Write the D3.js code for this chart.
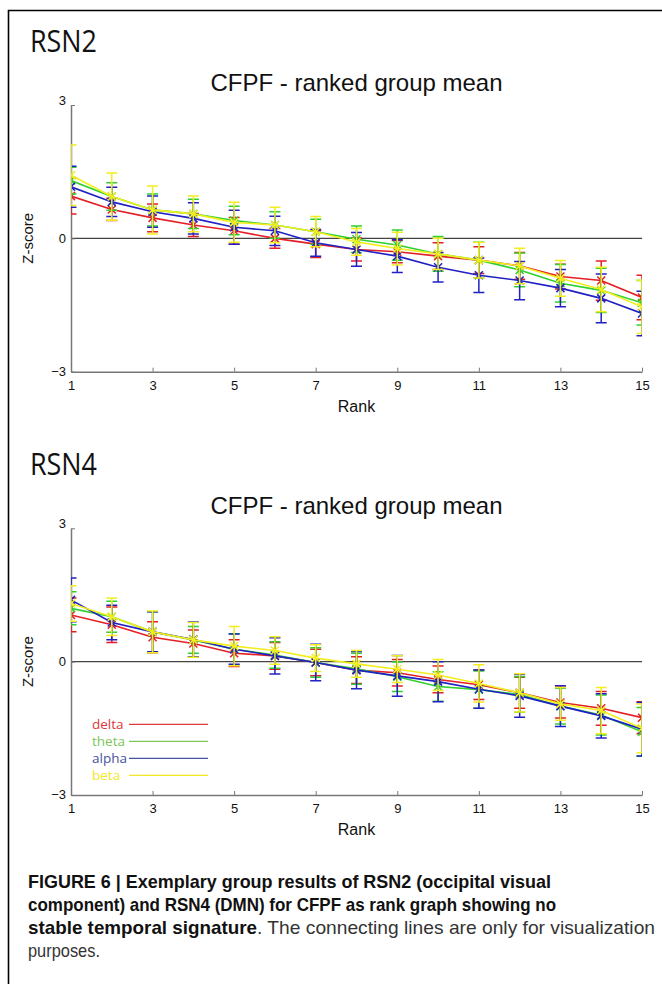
<!DOCTYPE html>
<html>
<head>
<meta charset="utf-8">
<script src="https://cdn.jsdelivr.net/npm/d3@7"></script>
<style>
    body { margin: 0; background: #fff; }
    svg { display: block; }
</style>
</head>
<body>
<svg id="figure" width="662" height="984"></svg>
<script>
// ranks on the x axis
const ranks = [1, 2, 3, 4, 5, 6, 7, 8, 9, 10, 11, 12, 13, 14, 15];
const xTicks = [1, 3, 5, 7, 9, 11, 13, 15];
const yTicks = [-3, 0, 3];
const bands = ["delta", "theta", "alpha", "beta"];
const bandColors = ["#e41f26", "#2fd02f", "#2020c4", "#f2ee1e"];
const legendColors = ["#e0383c", "#7cc65a", "#4552a0", "#f1e826"];

// RSN2 - group mean z-score per rank
const rsn2Delta = [0.95, 0.65, 0.46, 0.30, 0.17, 0.00, -0.13, -0.25, -0.30, -0.40, -0.49, -0.62, -0.86, -0.95, -1.33];
const rsn2Theta = [1.30, 0.94, 0.64, 0.55, 0.40, 0.30, 0.15, -0.02, -0.15, -0.35, -0.49, -0.71, -1.01, -1.17, -1.45];
const rsn2Alpha = [1.16, 0.82, 0.60, 0.45, 0.25, 0.17, -0.10, -0.25, -0.40, -0.65, -0.83, -0.95, -1.12, -1.35, -1.69];
const rsn2Beta = [1.42, 0.94, 0.64, 0.55, 0.36, 0.30, 0.15, -0.08, -0.23, -0.35, -0.49, -0.62, -0.90, -1.15, -1.54];
// RSN2 - error bar half widths
const rsn2DeltaErr = [0.40, 0.25, 0.31, 0.26, 0.30, 0.22, 0.30, 0.26, 0.25, 0.30, 0.30, 0.30, 0.28, 0.44, 0.50];
const rsn2ThetaErr = [0.30, 0.31, 0.36, 0.33, 0.32, 0.30, 0.28, 0.30, 0.34, 0.39, 0.40, 0.38, 0.42, 0.50, 0.50];
const rsn2AlphaErr = [0.46, 0.33, 0.35, 0.35, 0.38, 0.33, 0.30, 0.38, 0.37, 0.33, 0.39, 0.43, 0.42, 0.55, 0.50];
const rsn2BetaErr = [0.68, 0.53, 0.54, 0.40, 0.45, 0.40, 0.34, 0.30, 0.37, 0.35, 0.40, 0.40, 0.40, 0.50, 0.60];

// RSN4 - group mean z-score per rank
const rsn4Delta = [1.05, 0.83, 0.55, 0.41, 0.19, 0.13, -0.02, -0.19, -0.25, -0.40, -0.52, -0.70, -0.92, -1.05, -1.26];
const rsn4Theta = [1.20, 1.01, 0.67, 0.49, 0.28, 0.15, -0.02, -0.16, -0.34, -0.56, -0.63, -0.74, -1.00, -1.20, -1.58];
const rsn4Alpha = [1.39, 0.88, 0.67, 0.50, 0.28, 0.13, -0.02, -0.19, -0.32, -0.45, -0.62, -0.77, -1.00, -1.22, -1.52];
const rsn4Beta = [1.31, 1.01, 0.67, 0.49, 0.35, 0.25, 0.08, -0.05, -0.17, -0.30, -0.49, -0.70, -0.95, -1.10, -1.50];
// RSN4 - error bar half widths
const rsn4DeltaErr = [0.38, 0.40, 0.35, 0.30, 0.30, 0.30, 0.30, 0.30, 0.30, 0.30, 0.33, 0.35, 0.35, 0.38, 0.36];
const rsn4ThetaErr = [0.37, 0.35, 0.45, 0.30, 0.35, 0.30, 0.33, 0.35, 0.33, 0.33, 0.42, 0.40, 0.40, 0.45, 0.55];
const rsn4AlphaErr = [0.49, 0.39, 0.45, 0.39, 0.34, 0.41, 0.41, 0.42, 0.46, 0.45, 0.43, 0.48, 0.46, 0.50, 0.60];
const rsn4BetaErr = [0.40, 0.42, 0.47, 0.39, 0.44, 0.31, 0.30, 0.30, 0.30, 0.35, 0.42, 0.43, 0.37, 0.52, 0.55];

const svg = d3.select("#figure");
const helv = "'Liberation Sans', Arial, Helvetica, sans-serif";

/**
 * Draws one panel of the figure
 * @param top y offset of the panel
 * @param name panel heading
 * @param means array of mean series (one per band)
 * @param errs array of error series (one per band)
 * @param withLegend draw band legend inside the axes
 */
function drawPanel(top, name, means, errs, withLegend) {
    let x = d3.scaleLinear().domain([1, 15]).range([71, 642]);
    let y = d3.scaleLinear().domain([-3, 3]).range([top + 371.7, top + 105]);
    let g = svg.append("g");
    let clipId = "clip" + name;

    g.append("clipPath").attr("id", clipId)
        .append("rect")
        .attr("x", x(1)).attr("y", y(3) - 20)
        .attr("width", x(15) - x(1)).attr("height", y(-3) - y(3) + 40);

    g.append("text")
        .attr("x", 30).attr("y", top + 52)
        .attr("font-family", "'Open Sans', sans-serif")
        .attr("font-size", 31)
        .attr("textLength", 67).attr("lengthAdjust", "spacingAndGlyphs")
        .attr("fill", "#111")
        .text(name);

    g.append("text")
        .attr("x", (x(1) + x(15)) / 2).attr("y", top + 91)
        .attr("text-anchor", "middle")
        .attr("font-family", helv)
        .attr("font-size", 24)
        .attr("fill", "#111")
        .text("CFPF - ranked group mean");

    // zero line
    g.append("line")
        .attr("x1", x(1)).attr("x2", x(15))
        .attr("y1", y(0)).attr("y2", y(0))
        .attr("stroke", "#444").attr("stroke-width", 1.3);

    // axes
    let xAxis = d3.axisBottom(x).tickValues(xTicks).tickSizeInner(-4).tickSizeOuter(0).tickPadding(9);
    let yAxis = d3.axisLeft(y).tickValues(yTicks).tickFormat(d3.format("d"))
        .tickSizeInner(-4).tickSizeOuter(0).tickPadding(9);
    let ax = g.append("g").attr("transform", "translate(0," + y(-3) + ")").call(xAxis);
    let ay = g.append("g").attr("transform", "translate(" + x(1) + ",0)").call(yAxis);
    [ax, ay].forEach(function (a) {
        a.select(".domain").attr("stroke", "#777").attr("stroke-width", 1.5);
        a.selectAll(".tick line").attr("stroke", "#777").attr("stroke-width", 1);
        a.selectAll("text").attr("font-family", helv).attr("font-size", 13).attr("fill", "#111");
    });
    ay.selectAll(".tick text").attr("x", -5).attr("dy", "0.3em");
    ay.selectAll(".tick").filter(function (d) { return d === 3; }).select("text").attr("dy", "-0.05em");

    g.append("text")
        .attr("x", (x(1) + x(15)) / 2).attr("y", top + 412)
        .attr("text-anchor", "middle")
        .attr("font-family", helv).attr("font-size", 16).attr("fill", "#111")
        .text("Rank");

    g.append("text")
        .attr("transform", "translate(33," + y(0) + ") rotate(-90)")
        .attr("text-anchor", "middle")
        .attr("font-family", helv).attr("font-size", 15).attr("fill", "#111")
        .text("Z-score");

    // series: error bars, connecting line and x markers
    let plot = g.append("g").attr("clip-path", "url(#" + clipId + ")");
    let line = d3.line().x(function (d, i) { return x(ranks[i]); }).y(function (d) { return y(d); });
    let cap = 5.5;
    let mk = 4;

    for (let s = 0; s < means.length; s++) {
        let col = bandColors[s];
        let sg = plot.append("g")
            .attr("stroke", col).attr("fill", "none").attr("stroke-width", 1.5);
        let rows = ranks.map(function (r, i) { return {r: r, m: means[s][i], e: errs[s][i]}; });

        let bars = sg.selectAll(".eb").data(rows).enter().append("g").attr("class", "eb");
        bars.append("line")
            .attr("x1", function (d) { return x(d.r); }).attr("x2", function (d) { return x(d.r); })
            .attr("y1", function (d) { return y(d.m + d.e); }).attr("y2", function (d) { return y(d.m - d.e); });
        bars.append("line")
            .attr("x1", function (d) { return x(d.r) - cap; }).attr("x2", function (d) { return x(d.r) + cap; })
            .attr("y1", function (d) { return y(d.m + d.e); }).attr("y2", function (d) { return y(d.m + d.e); });
        bars.append("line")
            .attr("x1", function (d) { return x(d.r) - cap; }).attr("x2", function (d) { return x(d.r) + cap; })
            .attr("y1", function (d) { return y(d.m - d.e); }).attr("y2", function (d) { return y(d.m - d.e); });

        sg.append("path").attr("d", line(means[s])).attr("stroke-width", 1.6);

        sg.selectAll(".mk").data(rows).enter().append("path")
            .attr("class", "mk")
            .attr("d", function (d) {
                let cx = x(d.r), cy = y(d.m);
                return "M" + (cx - mk) + "," + (cy - mk) + "L" + (cx + mk) + "," + (cy + mk) +
                    "M" + (cx - mk) + "," + (cy + mk) + "L" + (cx + mk) + "," + (cy - mk);
            });
    }

    if (withLegend) {
        let lg = g.append("g");
        for (let i = 0; i < bands.length; i++) {
            let ly = top + 301 + i * 17;
            lg.append("text")
                .attr("x", 92).attr("y", ly + 5)
                .attr("font-family", "'Open Sans', sans-serif").attr("font-size", 13.5)
                .attr("fill", legendColors[i])
                .text(bands[i]);
            lg.append("line")
                .attr("x1", 129).attr("x2", 208)
                .attr("y1", ly).attr("y2", ly)
                .attr("stroke", legendColors[i]).attr("stroke-width", 1.3);
        }
    }
}

/**
 * Draws the figure frame and the caption
 */
function drawCaption() {
    svg.append("path")
        .attr("d", "M8.5,984V10.5H662")
        .attr("fill", "none").attr("stroke", "#000").attr("stroke-width", 1.6);

    let cap = svg.append("g")
        .attr("font-family", "'Liberation Sans Narrow', 'Liberation Sans', Arial, sans-serif")
        .attr("font-size", 19).attr("fill", "#111");

    cap.append("text").attr("x", 28).attr("y", 888)
        .attr("font-weight", "bold")
        .attr("textLength", 523).attr("lengthAdjust", "spacingAndGlyphs")
        .text("FIGURE 6 | Exemplary group results of RSN2 (occipital visual");
    cap.append("text").attr("x", 28).attr("y", 911)
        .attr("font-weight", "bold")
        .attr("textLength", 528).attr("lengthAdjust", "spacingAndGlyphs")
        .text("component) and RSN4 (DMN) for CFPF as rank graph showing no");
    cap.append("text").attr("x", 28).attr("y", 934)
        .attr("font-weight", "bold")
        .attr("textLength", 229).attr("lengthAdjust", "spacingAndGlyphs")
        .text("stable temporal signature");
    cap.append("text").attr("x", 257).attr("y", 934)
        .attr("fill", "#333")
        .attr("textLength", 398).attr("lengthAdjust", "spacingAndGlyphs")
        .text(". The connecting lines are only for visualization");
    cap.append("text").attr("x", 28).attr("y", 957)
        .attr("fill", "#333")
        .attr("textLength", 72).attr("lengthAdjust", "spacingAndGlyphs")
        .text("purposes.");
}

drawPanel(0, "RSN2",
    [rsn2Delta, rsn2Theta, rsn2Alpha, rsn2Beta],
    [rsn2DeltaErr, rsn2ThetaErr, rsn2AlphaErr, rsn2BetaErr], false);
drawPanel(423.3, "RSN4",
    [rsn4Delta, rsn4Theta, rsn4Alpha, rsn4Beta],
    [rsn4DeltaErr, rsn4ThetaErr, rsn4AlphaErr, rsn4BetaErr], true);
drawCaption();
</script>
</body>
</html>
